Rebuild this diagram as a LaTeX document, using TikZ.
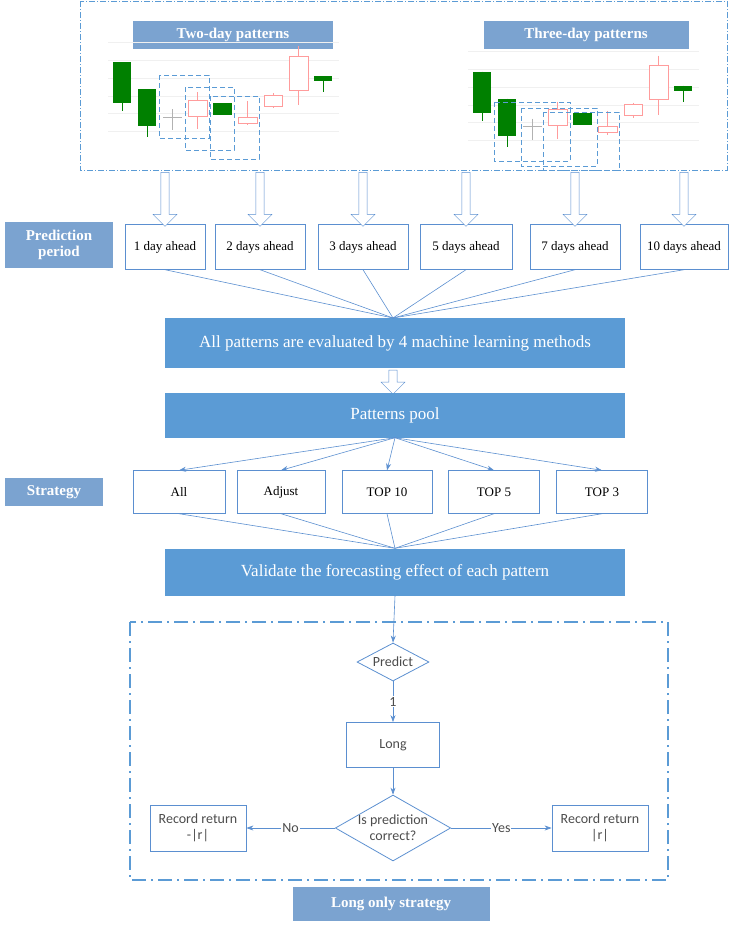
\documentclass[tikz,border=0pt]{standalone}
\usepackage{fontspec}
\setmainfont{Liberation Serif}
\newfontfamily\calfnt{Carlito}
\usetikzlibrary{shapes.geometric,shapes.arrows,arrows.meta}
\definecolor{lbl}{HTML}{7BA3D0}
\definecolor{blk}{HTML}{5B9BD5}
\definecolor{ln}{HTML}{5B8FD0}
\definecolor{gr}{HTML}{008000}
\definecolor{pk}{HTML}{FF9C9C}
\tikzset{
 lab/.style={fill=lbl,text=white,font=\bfseries\fontsize{15}{16}\selectfont,inner sep=0pt,align=center},
 pbox/.style={draw=ln,fill=white,minimum height=45pt,font=\fontsize{13}{14}\selectfont,inner sep=0pt},
 big/.style={fill=blk,text=white,minimum width=460pt,font=\fontsize{17}{18}\selectfont,inner sep=0pt},
 conv/.style={draw=ln,line width=0.6pt},
 fc/.style={draw=ln,line width=0.8pt,font=\calfnt\fontsize{14}{16}\selectfont,text=black!70},
 harr/.style={single arrow,draw=ln,fill=white,shape border rotate=270,minimum width=24pt,single arrow head extend=6pt,single arrow tip angle=90,inner sep=3pt},
 fa/.style={conv,-{Stealth[length=7pt,width=5pt]}},
 dbox/.style={draw=blk,dashed,line width=1pt,dash pattern=on 5pt off 3pt},
 pcan/.style={draw=pk,line width=0.8pt},
 wick/.style={draw=#1,line width=0.6pt},
 elab/.style={fill=white,inner sep=1pt,font=\calfnt\fontsize{14}{14}\selectfont,text=black!70}
}
\begin{document}
\begin{tikzpicture}[x=1pt,y=-1pt]
\useasboundingbox (0,0) rectangle (732,929);
% top panel
\draw[blk,line width=0.8pt,dash pattern=on 6pt off 2pt on 1pt off 2pt] (80,1) rectangle (727,170);
\node[lab,minimum width=200pt,minimum height=28pt] (two) at (233,35) {Two-day patterns};
\node[lab,minimum width=205pt,minimum height=28pt] (three) at (586,35) {Three-day patterns};
\foreach \dx/\dy in {0/0,360/9.6}{
 \begin{scope}[shift={(\dx,\dy)}]
 \foreach \yy in {42,60,78,96,113,131}{\draw[black!6] (108,\yy)--(339,\yy);}
 \draw[wick=gr] (122,62)--(122,111); \fill[gr] (112.5,62) rectangle (131,103);
 \draw[wick=gr] (147,89)--(147,137); \fill[gr] (138,89) rectangle (156,126);
 \draw[wick=black!30] (172,109)--(172,130); \draw[black!30] (163,117)--(182,117);
 \draw[wick=pk] (197,92)--(197,129); \draw[pcan,fill=white] (188,100) rectangle (207,116);
 \fill[gr] (213,103) rectangle (232,115);
 \draw[wick=pk] (247,101)--(247,125); \draw[pcan,fill=white] (238,117) rectangle (257,123);
 \draw[wick=pk] (273,93)--(273,108); \draw[pcan,fill=white] (264,95) rectangle (282,106);
 \draw[wick=pk] (298,46)--(298,105); \draw[pcan,fill=white] (289,56) rectangle (308,90);
 \draw[wick=gr] (323,76)--(323,92); \fill[gr] (314,76) rectangle (332,81);
 \end{scope}}
\draw[dbox] (159,75) rectangle (209,138);
\draw[dbox] (185,87) rectangle (234,150);
\draw[dbox] (210,96) rectangle (259,159);
\draw[dbox] (494,102) rectangle (570,161);
\draw[dbox] (521,108) rectangle (597,166);
\draw[dbox] (543,112) rectangle (619,170);
% prediction periods
\node[lab,minimum width=108pt,minimum height=46pt] (pp) at (59,245) {Prediction\\period};
\node[pbox,minimum width=80pt] (d1) at (165,247) {1 day ahead};
\node[pbox,minimum width=90pt] (d2) at (260,247) {2 days ahead};
\node[pbox,minimum width=90pt] (d3) at (363,247) {3 days ahead};
\node[pbox,minimum width=92pt] (d5) at (466,247) {5 days ahead};
\node[pbox,minimum width=90pt] (d7) at (575,247) {7 days ahead};
\node[pbox,minimum width=88pt] (d10) at (684,247) {10 days ahead};
\foreach \n in {d1,d2,d3,d5,d7,d10}{
 \node[harr,minimum height=54pt] (a\n) at ([yshift=27pt]\n.north) {};}
\node[big,minimum height=50pt] (all) at (395,343) {All patterns are evaluated by 4 machine learning methods};
\coordinate (cv1) at (393,318);
\foreach \n in {d1,d2,d3,d5,d7,d10}{\draw[conv] (\n.south) -- (cv1);}
\node[harr,minimum height=24pt] (a2) at (393,380) {};
\node[big,minimum height=45pt] (pool) at (395,415) {Patterns pool};
% strategy
\node[lab,minimum width=98pt,minimum height=28pt] (st) at (54,492) {Strategy};
\node[pbox,minimum width=92pt,minimum height=43pt] (s1) at (179,492) {All};
\node[pbox,minimum width=88pt,minimum height=43pt] (s2) at (281,492) {Adjust};
\node[pbox,minimum width=90pt,minimum height=43pt] (s3) at (387,492) {TOP 10};
\node[pbox,minimum width=91pt,minimum height=43pt] (s4) at (494,492) {TOP 5};
\node[pbox,minimum width=91pt,minimum height=43pt] (s5) at (602,492) {TOP 3};
\foreach \n in {s1,s2,s3,s4,s5}{\draw[fa] (pool.south) -- (\n.north);}
\node[big,minimum height=47pt] (val) at (395,572) {Validate the forecasting effect of each pattern};
\foreach \n in {s1,s2,s3,s4,s5}{\draw[conv] (\n.south) -- (val.north);}
% long only
\draw[blk,line width=1.8pt,dash pattern=on 14pt off 5pt on 2pt off 5pt] (130,622) rectangle (668,880);
\node[fc,diamond,aspect=2,inner sep=1pt,minimum width=72pt,minimum height=38pt] (pr) at (393,662) {Predict};
\node[fc,minimum width=93pt,minimum height=45pt] (long) at (393,745) {Long};
\node[fc,diamond,aspect=1.75,inner sep=0pt,minimum width=96pt,minimum height=54pt,align=center] (ok) at (393,828) {Is prediction\\correct?};
\node[fc,minimum width=96pt,minimum height=46pt,align=center] (rl) at (198,828) {Record return\\-|r|};
\node[fc,minimum width=96pt,minimum height=46pt,align=center] (rr) at (600,828) {Record return\\|r|};
\draw[fa] (val.south) -- (pr.north);
\draw[fa] (pr.south) -- node[elab]{1} (long.north);
\draw[fa] (long.south) -- (ok.north);
\draw[fa] (ok.west) -- node[elab]{No} (rl.east);
\draw[fa] (ok.east) -- node[elab]{Yes} (rr.west);
\node[lab,minimum width=197pt,minimum height=34pt] (lo) at (391,904) {Long only strategy};
\end{tikzpicture}
\end{document}
